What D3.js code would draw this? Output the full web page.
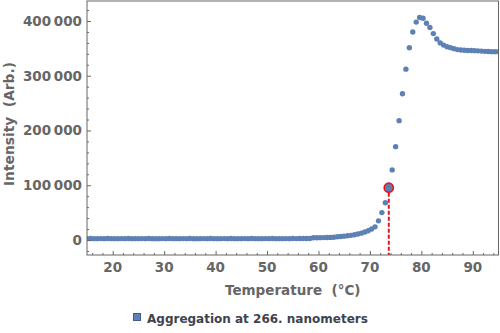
<!DOCTYPE html>
<html><head><meta charset="utf-8">
<script src="https://cdn.jsdelivr.net/npm/d3@7"></script>
<style>html,body{margin:0;padding:0;background:#fff;}svg{display:block;}</style>
</head><body>
<svg id="chart" width="500" height="333"></svg>
<script>
const temperatures = [
15.00,15.67,16.33,17.00,17.67,18.33,19.00,19.67,20.33,21.00,21.67,22.33,23.00,23.67,24.33,25.00,
25.67,26.33,27.00,27.67,28.33,29.00,29.67,30.33,31.00,31.67,32.33,33.00,33.67,34.33,35.00,35.67,
36.33,37.00,37.67,38.33,39.00,39.67,40.33,41.00,41.67,42.33,43.00,43.67,44.33,45.00,45.67,46.33,
47.00,47.67,48.33,49.00,49.67,50.33,51.00,51.67,52.33,53.00,53.67,54.33,55.00,55.67,56.33,57.00,
57.67,58.33,59.00,59.67,60.33,61.00,61.67,62.33,63.00,63.67,64.33,65.00,65.67,66.33,67.00,67.67,
68.33,69.00,69.67,70.33,71.00,71.67,72.33,73.00,73.67,74.33,75.00,75.67,76.33,77.00,77.67,78.33,
79.00,79.67,80.33,81.00,81.67,82.33,83.00,83.67,84.33,85.00,85.67,86.33,87.00,87.67,88.33,89.00,
89.67,90.33,91.00,91.67,92.33,93.00,93.67,94.33,95.00];
const intensities = [
2500,2600,2500,2450,2550,2500,2600,2500,2450,2500,2550,2500,2600,2500,2450,2500,
2550,2500,2600,2500,2450,2500,2550,2500,2600,2500,2450,2500,2550,2500,2600,2500,
2450,2500,2550,2500,2600,2500,2450,2500,2550,2500,2600,2500,2450,2500,2550,2500,
2600,2500,2450,2500,2550,2500,2600,2500,2450,2500,2550,2500,2600,2550,2600,2650,
2700,2800,4000,4200,4300,4400,4500,4700,5000,6000,6500,7000,7800,8500,9500,11000,
12500,14500,17000,20000,24000,35000,50000,68000,95500,128000,170500,218000,267000,312000,351000,380000,
398000,406500,405000,396000,388000,377000,367000,360000,356000,353000,351300,349500,347700,347000,346500,346000,
346000,345800,345500,345000,344500,344200,344000,344000,344000];
const xTicks = [20,30,40,50,60,70,80,90];
const yTicks = [0,100000,200000,300000,400000];
const highlightTemp = 73.67;
const seriesLabel = "Aggregation at 266. nanometers";
const xLabel = "Temperature\u00a0\u00a0(°C)";
const yLabel = "Intensity\u00a0\u00a0(Arb.)";

const data = temperatures.map((t,i)=>({t, v: intensities[i]}));
const svg = d3.select("#chart");
const L=87, R=498.5, T=1, B=255;
const x = d3.scaleLinear().domain([15,95]).range([L,R]);
const y = d3.scaleLinear().domain([-27400,436500]).range([B,T]);
const gray = "#666";
const font = "'DejaVu Sans', sans-serif";

svg.append("clipPath").attr("id","clip").append("rect")
  .attr("x",L).attr("y",T).attr("width",R-L).attr("height",B-T);

// points
svg.append("g").attr("clip-path","url(#clip)")
  .selectAll("circle").data(data).join("circle")
  .attr("cx",d=>x(d.t)).attr("cy",d=>y(d.v)).attr("r",2.7)
  .attr("fill","#5E81B5");

// highlight
const hp = data.find(d=>Math.abs(d.t-highlightTemp)<0.01);
svg.append("line")
  .attr("x1",x(hp.t)).attr("x2",x(hp.t)).attr("y1",y(hp.v)+5).attr("y2",B)
  .attr("stroke","#e8141c").attr("stroke-width",2).attr("stroke-dasharray","4,2");
svg.append("circle").attr("cx",x(hp.t)).attr("cy",y(hp.v)).attr("r",4.6)
  .attr("fill","#5E81B5").attr("stroke","#f01010").attr("stroke-width",1.6);

// axes with inward ticks
const xAxis = d3.axisBottom(x).tickValues(d3.range(16,95,2)).tickSize(-2).tickFormat("");
const gx = svg.append("g").attr("transform",`translate(0,${B})`).call(xAxis);
gx.selectAll(".tick line").filter(d=>xTicks.includes(d)).attr("y2",-4);
const yAxis = d3.axisLeft(y).tickValues(d3.range(-20000,436000,20000)).tickSize(-2).tickFormat("");
const gy = svg.append("g").attr("transform",`translate(${L},0)`).call(yAxis);
gy.selectAll(".tick line").filter(d=>yTicks.includes(d)).attr("x2",4);
[gx,gy].forEach(g=>{g.select(".domain").remove(); g.selectAll(".tick line").attr("stroke",gray);});

// tick labels
svg.append("g").selectAll("text").data(xTicks).join("text")
  .attr("x",d=>x(d)).attr("y",272).attr("text-anchor","middle")
  .attr("font-family",font).attr("font-weight","bold").attr("font-size","13.5px").attr("fill",gray)
  .text(d=>d);
const fmt = v => v===0 ? "0" : d3.format(",")(v).replace(/,/g,"\u2009");
svg.append("g").selectAll("text").data(yTicks).join("text")
  .attr("x",82).attr("y",d=>y(d)+5).attr("text-anchor","end")
  .attr("font-family",font).attr("font-weight","bold").attr("font-size","13.5px").attr("fill",gray)
  .text(fmt);

// frame
svg.append("rect").attr("x",L).attr("y",T).attr("width",R-L).attr("height",B-T)
  .attr("fill","none").attr("stroke",gray).attr("stroke-width",1);

// axis labels
svg.append("text").attr("x",(L+R)/2).attr("y",295).attr("text-anchor","middle")
  .attr("font-family",font).attr("font-weight","bold").attr("font-size","13.5px").attr("fill",gray)
  .text(xLabel);
svg.append("text").attr("transform","translate(14,124) rotate(-90)").attr("text-anchor","middle")
  .attr("font-family",font).attr("font-weight","bold").attr("font-size","13.8px").attr("fill",gray)
  .text(yLabel);

// legend
const lg = svg.append("g");
lg.append("rect").attr("x",133.5).attr("y",313.5).attr("width",7).attr("height",7)
  .attr("fill","#5E81B5").attr("stroke","#3f5a85").attr("stroke-width",1);
lg.append("text").attr("x",147).attr("y",323)
  .attr("font-family",font).attr("font-weight","bold").attr("font-size","12px").attr("fill","#3d4350")
  .text(seriesLabel);
</script>
</body></html>
